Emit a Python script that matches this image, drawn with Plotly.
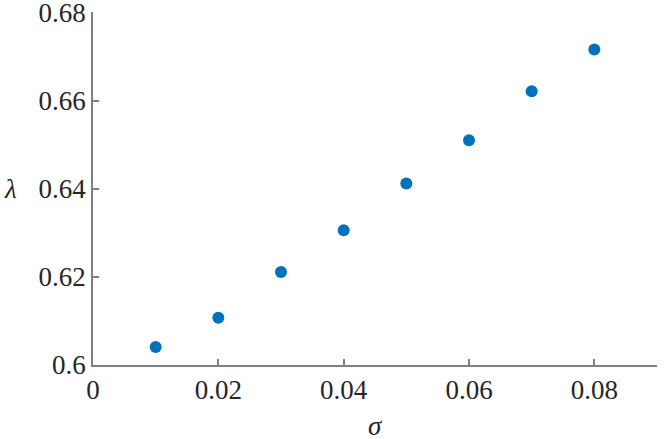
import plotly.graph_objects as go

sigma = [0.01, 0.02, 0.03, 0.04, 0.05, 0.06, 0.07, 0.08]
lam = [0.6041, 0.6107, 0.6211, 0.6306, 0.6412, 0.6510, 0.6621, 0.6716]

x_ticks = [0, 0.02, 0.04, 0.06, 0.08]
x_labels = ['0', '0.02', '0.04', '0.06', '0.08']
y_ticks = [0.6, 0.62, 0.64, 0.66, 0.68]
y_labels = ['0.6', '0.62', '0.64', '0.66', '0.68']

font_main = dict(family='Liberation Serif', size=27, color='#262626')

fig = go.Figure()
fig.add_trace(go.Scatter(x=sigma, y=lam, mode='markers',
                         marker=dict(color='#0072BD', size=12)))

axis_common = dict(showline=True, linecolor='#808080', linewidth=1.5,
                   ticks='inside', ticklen=6, tickcolor='#808080', tickwidth=1.5,
                   showgrid=False, zeroline=False, tickfont=font_main,
                   ticklabeloverflow='allow', automargin=False)

fig.update_xaxes(range=[0, 0.09], tickvals=x_ticks, ticktext=x_labels, **axis_common)
fig.update_yaxes(range=[0.6, 0.6801], tickvals=y_ticks, ticktext=y_labels, **axis_common)

fig.add_annotation(text='<i>σ</i>', xref='paper', yref='paper', x=0.501, y=-0.172,
                   showarrow=False, font=font_main, xanchor='center', yanchor='middle')
fig.add_annotation(text='<i>λ</i>', xref='paper', yref='paper', x=-0.146, y=0.5,
                   showarrow=False, font=font_main, xanchor='center', yanchor='middle')

fig.update_layout(width=664, height=439, showlegend=False,
                  margin=dict(l=93, r=7, t=12, b=74, autoexpand=False),
                  paper_bgcolor='white', plot_bgcolor='white')

# page body has a default 8px margin; drop it so the figure sits at the corner
fig.write_html("out.html", config={'displayModeBar': False},
               post_script="document.body.style.margin='0';")
